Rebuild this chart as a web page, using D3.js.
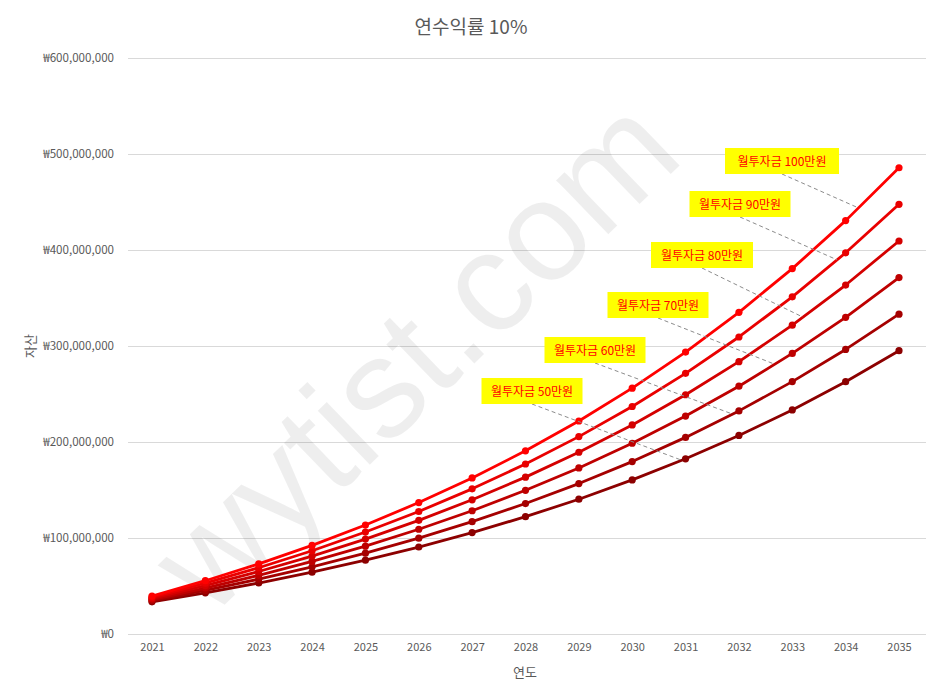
<!DOCTYPE html>
<html><head><meta charset="utf-8">
<script src="https://cdn.jsdelivr.net/npm/d3@7"></script>
<style>body{margin:0;background:#fff;font-family:"Noto Sans CJK KR","Noto Sans",sans-serif;}</style>
</head><body><svg id="c" width="940" height="693"></svg>
<script>
const years = [2021,2022,2023,2024,2025,2026,2027,2028,2029,2030,2031,2032,2033,2034,2035];
const seriesNames = ["월투자금 50만원","월투자금 60만원","월투자금 70만원","월투자금 80만원","월투자금 90만원","월투자금 100만원"];
// values in millions of won
const s50  = [33.5,42.9,53.1,64.4,76.9,90.6,105.6,122.2,140.4,160.5,182.5,206.8,233.4,262.8,295.1];
const s60  = [34.7,45.4,57.1,70.0,84.2,99.8,117.0,135.9,156.7,179.6,204.8,232.4,262.9,296.4,333.2];
const s70  = [35.9,47.9,61.1,75.6,91.5,109.1,128.4,149.7,173.0,198.7,227.0,258.1,292.3,329.9,371.3];
const s80  = [37.1,50.4,65.1,81.2,98.9,118.4,139.8,163.4,189.3,217.8,249.2,283.7,321.7,363.5,409.4];
const s90  = [38.3,52.9,69.0,86.7,106.2,127.6,151.2,177.1,205.6,237.0,271.5,309.4,351.2,397.1,447.6];
const s100 = [39.5,55.5,73.0,92.3,113.5,136.9,162.6,190.8,221.9,256.1,293.7,335.1,380.6,430.6,485.7];
const seriesValues = [s50,s60,s70,s80,s90,s100];
const colors = ["#8c0000","#a50000","#be0000","#d40000","#e90000","#ff0000"];
const yTicks = [0,100,200,300,400,500,600];
// where each data label's leader line meets its series (fractional year index)
const leaderAt = [9.93,10.88,11.67,12.2,12.84,13.24];

const svg = d3.select("#c");
const x = d3.scaleLinear().domain([0,14]).range([152,899]);
const y = d3.scaleLinear().domain([0,600]).range([634,58]);
const fmt = v => "₩" + d3.format(",")(v*1e6);

// gridlines
svg.append("g").selectAll("line").data(yTicks).join("line")
  .attr("x1",128).attr("x2",926).attr("y1",d=>y(d)).attr("y2",d=>y(d))
  .attr("stroke","#d9d9d9").attr("stroke-width",1).attr("shape-rendering","crispEdges");

// watermark
svg.append("text").attr("transform","translate(422,362) rotate(-44)")
  .attr("text-anchor","middle").attr("dominant-baseline","middle")
  .attr("font-family","Liberation Sans, Arial, sans-serif").attr("font-size",142)
  .attr("fill","#000").attr("fill-opacity",0.065).text("wytist.com");

// title
svg.append("text").attr("x",471).attr("y",34).attr("text-anchor","middle")
  .attr("font-size",19).attr("fill","#595959").text("연수익률 10%");

// y axis labels
const ya = svg.append("g").attr("transform","translate(114,0)")
  .call(d3.axisLeft(y).tickValues(yTicks).tickFormat(fmt).tickSize(0).tickPadding(0));
ya.select(".domain").remove();
ya.selectAll("text").attr("font-size",11.6).attr("fill","#595959").attr("font-family","Noto Sans CJK KR, sans-serif");

// x axis labels
const xa = svg.append("g").attr("transform","translate(0,643)")
  .call(d3.axisBottom(x).tickValues(d3.range(15)).tickFormat(i=>years[i]).tickSize(0).tickPadding(0));
xa.select(".domain").remove();
xa.selectAll("text").attr("font-size",11).attr("fill","#595959").attr("font-family","Noto Sans CJK KR, sans-serif");

// axis titles
svg.append("text").attr("x",525).attr("y",677).attr("text-anchor","middle")
  .attr("font-size",13).attr("fill","#595959").text("연도");
svg.append("text").attr("transform","translate(35,346) rotate(-90)").attr("text-anchor","middle")
  .attr("font-size",13).attr("fill","#595959").text("자산");

// lines
const line = d3.line().x((d,i)=>x(i)).y(d=>y(d));
seriesValues.forEach((vals,k)=>{
  const g = svg.append("g");
  g.append("path").attr("d",line(vals)).attr("fill","none")
    .attr("stroke",colors[k]).attr("stroke-width",2.8).attr("stroke-linejoin","round");
  g.selectAll("circle").data(vals).join("circle")
    .attr("cx",(d,i)=>x(i)).attr("cy",d=>y(d)).attr("r",3.6).attr("fill",colors[k]);
});

// data labels with leader lines
const boxes = [
  {cx:532,cy:391,w:101},{cx:595,cy:350,w:101},{cx:658,cy:305,w:101},
  {cx:702,cy:255,w:102},{cx:740,cy:204,w:101},{cx:782,cy:161,w:114}
];
boxes.forEach((b,k)=>{
  const t = leaderAt[k], i0 = Math.floor(t), f = t - i0;
  const vals = seriesValues[k];
  const v = vals[i0] + (vals[i0+1]-vals[i0])*f;
  svg.append("line").attr("x1",b.cx).attr("y1",b.cy+13).attr("x2",x(t)).attr("y2",y(v))
    .attr("stroke","#8c8c8c").attr("stroke-width",1).attr("stroke-dasharray","4,3");
});
boxes.forEach((b,k)=>{
  svg.append("rect").attr("x",b.cx-b.w/2).attr("y",b.cy-13).attr("width",b.w).attr("height",26)
    .attr("fill","#ffff00");
  svg.append("text").attr("x",b.cx).attr("y",b.cy+4.5).attr("text-anchor","middle")
    .attr("font-size",12).attr("fill","#ff0000").text(seriesNames[k]);
});
</script></body></html>
